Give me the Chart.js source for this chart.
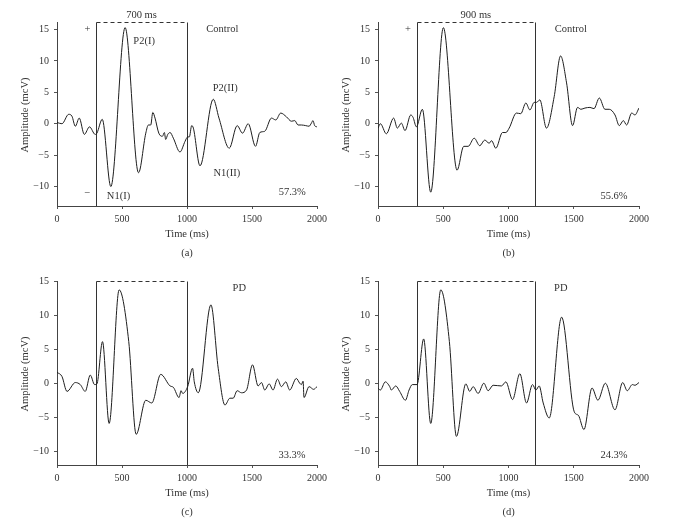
<!DOCTYPE html>
<html><head><meta charset="utf-8">
<script src="https://cdn.jsdelivr.net/npm/chart.js@4.4.0/dist/chart.umd.min.js"></script>
<style>
html,body{margin:0;padding:0;background:#fff;width:678px;height:523px;overflow:hidden;}
canvas{position:absolute;}
</style></head><body>
<canvas id="ca" width="339" height="260" style="left:0;top:0"></canvas>
<canvas id="cb" width="339" height="260" style="left:339px;top:0"></canvas>
<canvas id="cc" width="339" height="263" style="left:0;top:260px"></canvas>
<canvas id="cd" width="339" height="263" style="left:339px;top:260px"></canvas>
<script>
// ---- data ----
const xTicks = [0, 500, 1000, 1500, 2000];
const yTicks = [-10, -5, 0, 5, 10, 15];

const timeA = [0,38,90,115,141,171,210,250,294,307,348,414,524,627,683,703,721,737,754,783,811,826,836,852,870,895,946,985,1005,1018,1036,1049,1100,1202,1246,1325,1386,1427,1471,1527,1560,1598,1650,1683,1721,1765,1803,1829,1854,1880,1913,1939,1957,1969,1982,2000];
const ampA  = [0.2,0,1.5,1.2,-0.4,0.9,-1.7,-0.5,-1.7,-1.5,0.7,-10,15.3,-7.8,-1.5,-0.2,-0.2,1.8,0.9,-1.5,-2,-1.4,-2.5,-1.7,-1.4,-2.3,-4.5,-2.8,-2.1,-2.1,-0.3,-0.7,-6.7,3.9,0.9,-3.9,-0.3,-1.5,0,-3.6,-1.4,-1.2,0.9,0.6,1.7,1.1,0.4,0.5,-0.2,-0.2,-0.3,-0.4,0.1,0.5,-0.3,-0.5];

const timeB = [0,18,64,120,148,179,207,251,269,294,340,404,501,606,657,691,737,780,818,852,870,903,954,980,1005,1061,1094,1133,1164,1197,1215,1240,1291,1350,1399,1445,1491,1529,1555,1586,1624,1655,1696,1739,1772,1816,1849,1880,1905,1944,1969,2000];
const ampB  = [-0.7,0,-1.6,0.9,-0.7,0.1,-1.1,1.4,1.0,-0.5,2.3,-10.9,15.3,-7.4,-3.6,-3.6,-2.3,-3.5,-2.6,-3.1,-2.7,-3.9,-1.4,-1.4,-0.7,1.7,1.6,3.3,2.2,3.4,3.4,3.8,-0.7,4.3,10.8,6.5,-0.3,2.6,2.3,2.5,2.6,2.4,4.1,2.3,2.3,1.4,-0.3,0.5,-0.2,1.7,1.4,2.5];

const timeC = [0,38,77,141,179,217,256,289,307,350,401,478,552,609,683,729,798,870,895,939,954,967,1005,1043,1056,1087,1184,1240,1292,1330,1355,1386,1419,1458,1504,1547,1573,1598,1632,1662,1696,1726,1760,1790,1841,1867,1880,1893,1900,1939,1974,2000];
const ampC  = [1.6,1.0,-1.2,0.1,-0.2,-1.2,1.2,-0.2,-0.1,6.1,-5.9,13.7,6.1,-7.5,-2.5,-2.9,1.3,-0.4,-0.6,-2.1,-1.1,-1.5,-0.5,2.2,0.2,-1.4,11.5,2.2,-3.2,-2.2,-2.2,-1.1,-1.4,-1.0,2.7,-0.4,0.1,-1.0,-0.1,-1.0,0.6,-0.5,0.2,-1.0,0.7,0.0,-0.2,0.3,-2.1,-0.5,-0.9,-0.5];

const timeD = [0,18,56,90,102,136,166,210,238,263,299,350,404,481,547,601,673,703,729,767,811,844,882,946,980,1031,1087,1138,1184,1210,1235,1266,1312,1407,1504,1535,1578,1640,1685,1742,1816,1875,1910,1949,1969,2000];
const ampD  = [-0.7,-1.0,0.2,-0.5,-1.0,-0.4,-1.2,-2.5,-1.0,-0.2,-0.2,6.5,-5.9,13.7,6.1,-7.8,-0.1,-1.2,-0.5,-1.5,0,-1.1,-0.3,-0.4,0.2,-2.4,1.4,-2.9,-0.2,-1.0,-0.4,-2.9,-5.1,9.7,-4.2,-4.7,-6.8,-0.7,-2.5,0,-3.9,0.1,-1.1,-0.2,-0.3,0.1];

const windowA = [300, 1000];
const windowB = [300, 1200];
const windowC = [300, 1000];
const windowD = [300, 1200];

const captions = ['(a)', '(b)', '(c)', '(d)'];
const groupLabels = ['Control', 'Control', 'PD', 'PD'];
const percentLabels = ['57.3%', '55.6%', '33.3%', '24.3%'];

// ---- drawing ----
const FONT = '"Liberation Serif", "DejaVu Serif", serif';
const TXT = '#333';
const LINE = '#1e1e1e';

const deco = {
  id: 'deco',
  beforeDatasetsDraw(chart, args, o) {
    const {ctx, chartArea: ca, scales: {x, y}} = chart;
    const xl = Math.round(x.getPixelForValue(o.win[0])) + 0.5;
    const xr = Math.round(x.getPixelForValue(o.win[1])) + 0.5;
    const yt = Math.round(y.getPixelForValue(o.boxTop)) + 0.5;
    ctx.save();
    ctx.strokeStyle = '#333'; ctx.lineWidth = 1;
    ctx.beginPath();
    ctx.moveTo(xl, ca.bottom); ctx.lineTo(xl, yt);
    ctx.moveTo(xr, ca.bottom); ctx.lineTo(xr, yt);
    ctx.stroke();
    ctx.setLineDash([4, 3]);
    ctx.beginPath(); ctx.moveTo(xl, yt); ctx.lineTo(xr, yt); ctx.stroke();
    ctx.restore();
  },
  afterDraw(chart, args, o) {
    const {ctx, chartArea: ca, scales: {x, y}} = chart;
    ctx.save();
    ctx.fillStyle = TXT;
    ctx.textAlign = 'center'; ctx.textBaseline = 'middle';
    ctx.font = '10.5px ' + FONT;
    o.notes.forEach(n => {
      const py = n.above ? y.getPixelForValue(o.boxTop) - 7 : y.getPixelForValue(n.v);
      ctx.fillText(n.text, x.getPixelForValue(n.t), py);
    });
    const cx = (ca.left + ca.right) / 2;
    ctx.fillText('Time (ms)', cx, ca.bottom + 28);
    ctx.fillText(o.caption, cx, ca.bottom + 47);
    ctx.save();
    ctx.translate(ca.left - 32, (ca.top + ca.bottom) / 2 + 1);
    ctx.rotate(-Math.PI / 2);
    ctx.fillText('Amplitude (mcV)', 0, 0);
    ctx.restore();
    ctx.restore();
  }
};

function fmt(v) { return v < 0 ? '\u2212' + Math.abs(v) : String(v); }

function makePanel(id, times, amps, win, P, notes, caption) {
  const axisBase = {
    grid: {display: true, drawOnChartArea: false, drawTicks: true, tickLength: 3, color: '#555'},
    border: {display: true, color: '#444', width: 1},
    ticks: {color: TXT, font: {family: FONT, size: 10}, padding: 4, maxRotation: 0, autoSkip: false}
  };
  new Chart(document.getElementById(id), {
    type: 'line',
    data: {datasets: [{
      data: times.map((t, i) => ({x: t, y: amps[i]})),
      borderColor: LINE, borderWidth: 1, pointRadius: 0,
      cubicInterpolationMode: 'monotone', fill: false
    }]},
    options: {
      responsive: false, animation: false, devicePixelRatio: 1,
      layout: {padding: {left: 0, right: P.right, top: P.top, bottom: 0}},
      plugins: {legend: {display: false}, tooltip: {enabled: false},
        deco: {win: win, boxTop: P.ymax, notes: notes, caption: caption}},
      scales: {
        x: Object.assign({}, axisBase, {
          type: 'linear', min: 0, max: 2000,
          afterBuildTicks: s => { s.ticks = xTicks.map(v => ({value: v})); },
          afterFit: s => { s.height = P.xh; },
          ticks: Object.assign({}, axisBase.ticks, {callback: v => fmt(v)})
        }),
        y: Object.assign({}, axisBase, {
          type: 'linear', min: P.ymin, max: P.ymax,
          afterBuildTicks: s => { s.ticks = yTicks.map(v => ({value: v})); },
          afterFit: s => { s.width = P.yw; },
          ticks: Object.assign({}, axisBase.ticks, {padding: 5, callback: v => fmt(v)})
        })
      }
    },
    plugins: [deco]
  });
}

makePanel('ca', timeA, ampA, windowA,
  {yw: 57, right: 22, top: 22, xh: 54, ymin: -13.1, ymax: 16.2},
  [{text: '700 ms', t: 650, above: true},
   {text: '+', t: 235, v: 15}, {text: '\u2212', t: 235, v: -11.1},
   {text: 'P2(I)', t: 670, v: 13.2}, {text: 'N1(I)', t: 473, v: -11.6},
   {text: groupLabels[0], t: 1272, v: 15.1},
   {text: 'P2(II)', t: 1294, v: 5.6}, {text: 'N1(II)', t: 1307, v: -7.9},
   {text: percentLabels[0], t: 1810, v: -10.9}], captions[0]);

makePanel('cb', timeB, ampB, windowB,
  {yw: 39, right: 39, top: 22, xh: 54, ymin: -13.1, ymax: 16.2},
  [{text: '900 ms', t: 750, above: true},
   {text: '+', t: 230, v: 15},
   {text: groupLabels[1], t: 1478, v: 15.1},
   {text: percentLabels[1], t: 1808, v: -11.5}], captions[1]);

makePanel('cc', timeC, ampC, windowC,
  {yw: 57, right: 22, top: 21, xh: 58, ymin: -12, ymax: 15},
  [{text: groupLabels[2], t: 1402, v: 14.0},
   {text: percentLabels[2], t: 1808, v: -10.6}], captions[2]);

makePanel('cd', timeD, ampD, windowD,
  {yw: 39, right: 39, top: 21, xh: 58, ymin: -12, ymax: 15},
  [{text: groupLabels[3], t: 1401, v: 14.0},
   {text: percentLabels[3], t: 1808, v: -10.6}], captions[3]);
</script>
</body></html>
